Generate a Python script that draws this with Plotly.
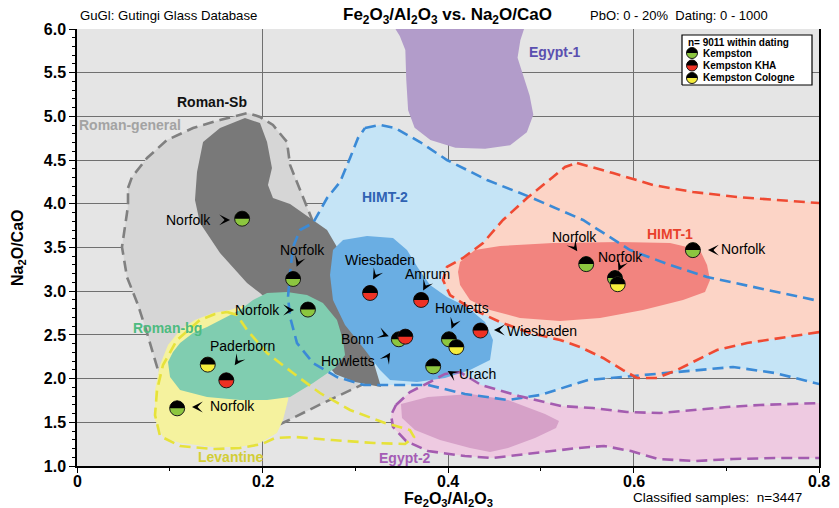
import numpy as np
import plotly.graph_objects as go

# ---------------- data ----------------
X_RANGE = [0.0, 0.8]
Y_RANGE = [1.0, 6.0]
x_tickvals = [0, 0.2, 0.4, 0.6, 0.8]
x_ticktext = ["0", "0.2", "0.4", "0.6", "0.8"]
y_tickvals = [1.0, 1.5, 2.0, 2.5, 3.0, 3.5, 4.0, 4.5, 5.0, 5.5, 6.0]
y_ticktext = ["1.0", "1.5", "2.0", "2.5", "3.0", "3.5", "4.0", "4.5", "5.0", "5.5", "6.0"]

# Kempston samples (Fe2O3/Al2O3, Na2O/CaO)
kempston_x = [0.178, 0.233, 0.249, 0.108, 0.347, 0.401, 0.384, 0.549, 0.580, 0.664]
kempston_y = [3.83, 3.14, 2.79, 1.66, 2.45, 2.45, 2.14, 3.31, 3.15, 3.47]
kha_x = [0.161, 0.316, 0.371, 0.435, 0.354]
kha_y = [1.98, 2.98, 2.90, 2.55, 2.48]
cologne_x = [0.141, 0.409, 0.583]
cologne_y = [2.16, 2.36, 3.08]

# site labels
site_names = ["Norfolk", "Norfolk", "Norfolk", "Paderborn", "Norfolk", "Wiesbaden", "Amrum",
              "Howletts", "Wiesbaden", "Bonn", "Howletts", "Urach", "Norfolk", "Norfolk", "Norfolk"]
site_label_x = [0.1466, 0.2426, 0.2210, 0.1779, 0.1412, 0.3267, 0.3784, 0.4151, 0.4615,
                0.3224, 0.3235, 0.4097, 0.5369, 0.5865, 0.6922]
site_label_y = [3.815, 3.471, 2.785, 2.373, 1.686, 3.357, 3.197, 2.808, 2.545, 2.453,
                2.201, 2.053, 3.620, 3.391, 3.483]
site_label_anchor = ["right", "center", "right", "center", "left", "center", "center", "center",
                     "left", "right", "right", "left", "center", "center", "left"]
pointer_x = [0.1607, 0.2383, 0.2297, 0.1725, 0.1283, 0.3213, 0.3752, 0.4054, 0.4539,
             0.3321, 0.3353, 0.4033, 0.5369, 0.5855, 0.6846]
pointer_y = [3.815, 3.323, 2.785, 2.190, 1.675, 3.174, 3.048, 2.613, 2.556, 2.499,
             2.258, 2.064, 3.494, 3.277, 3.471]
pointer_angle = [0, 110, 0, 125, 180, 120, 118, 112, 180, 20, -58, -150, 55, 114, 180]

# regions (outline polygons in data units)
rgen_x = [0.0550, 0.0593, 0.0755, 0.0970, 0.1251, 0.1542, 0.1844, 0.1973, 0.2113, 0.2264, 0.2297,
          0.2458, 0.2545, 0.2728, 0.2944, 0.3105, 0.3181, 0.2976, 0.2631, 0.2286, 0.1865, 0.1218,
          0.1003, 0.0927, 0.0863, 0.0755, 0.0658, 0.0539, 0.0485, 0.0539, 0.0550]
rgen_y = [4.181, 4.307, 4.524, 4.730, 4.867, 4.959, 5.039, 4.993, 4.902, 4.707, 4.444,
          4.021, 3.792, 3.357, 2.899, 2.442, 1.984, 1.881, 1.709, 1.526, 1.320, 1.297,
          1.469, 1.927, 2.133, 2.522, 2.842, 3.162, 3.506, 3.895, 3.986]
rsb_x = [0.1811, 0.1973, 0.2049, 0.2102, 0.2059, 0.2113, 0.2297, 0.2545, 0.2696, 0.2803, 0.2890,
         0.2997, 0.3105, 0.3191, 0.3278, 0.2997, 0.2782, 0.2404, 0.1973, 0.1833, 0.1542, 0.1326,
         0.1272, 0.1294, 0.1359, 0.1542]
rsb_y = [4.982, 4.924, 4.707, 4.410, 4.215, 4.066, 3.998, 3.815, 3.700, 3.506, 3.242,
         2.899, 2.556, 2.213, 1.904, 1.961, 2.053, 2.556, 2.979, 3.094, 3.437, 3.780,
         4.043, 4.364, 4.707, 4.867]
himt2_x = [0.3105, 0.3267, 0.3429, 0.3698, 0.3989, 0.4421, 0.4884, 0.5456, 0.5963, 0.6394, 0.6793,
           0.7289, 0.83, 0.83, 0.7526, 0.7073, 0.6372, 0.5510, 0.4992, 0.4647, 0.4183, 0.3784,
           0.3094, 0.2803, 0.2545, 0.2372, 0.2297, 0.2275, 0.2297, 0.2329, 0.2404, 0.2545,
           0.2696, 0.2836, 0.2944, 0.3030]
himt2_y = [4.867, 4.902, 4.867, 4.707, 4.501, 4.272, 4.078, 3.815, 3.471, 3.300, 3.162,
           3.048, 2.82, 1.858, 2.064, 2.133, 2.064, 1.984, 1.812, 1.755, 1.824, 1.927,
           1.927, 2.018, 2.178, 2.407, 2.705, 2.933, 3.208, 3.506, 3.700, 3.780,
           4.066, 4.249, 4.524, 4.753]
himt2_core_x = [0.2760, 0.2868, 0.3127, 0.3407, 0.3558, 0.3677, 0.3806, 0.3989, 0.4205, 0.4399,
                0.4485, 0.4453, 0.4237, 0.3968, 0.3666, 0.3375, 0.3267, 0.3105, 0.2890, 0.2760, 0.2728]
himt2_core_y = [3.471, 3.586, 3.631, 3.609, 3.471, 3.265, 3.071, 2.933, 2.819, 2.647,
                2.442, 2.213, 2.098, 2.007, 1.961, 1.984, 2.098, 2.327, 2.613, 2.899, 3.185]
himt1_x = [0.5391, 0.5779, 0.6210, 0.6642, 0.7116, 0.7580, 0.83, 0.83, 0.7580, 0.7224, 0.6900,
           0.6685, 0.6469, 0.6253, 0.6038, 0.5887, 0.5672, 0.5424, 0.5208, 0.4884, 0.4561,
           0.4237, 0.4022, 0.3946, 0.3989, 0.4162, 0.4378, 0.4593, 0.4852, 0.5132, 0.5262]
himt1_y = [4.467, 4.352, 4.215, 4.135, 4.078, 4.043, 3.985, 2.58, 2.464, 2.407, 2.327,
           2.213, 2.098, 2.007, 2.007, 2.098, 2.236, 2.361, 2.442, 2.522, 2.647,
           2.808, 2.956, 3.128, 3.277, 3.380, 3.551, 3.815, 4.066, 4.307, 4.421]
himt1_core_x = [0.4130, 0.4291, 0.4561, 0.5132, 0.5855, 0.6394, 0.6717, 0.6793, 0.6825, 0.6771,
                0.6534, 0.6103, 0.5639, 0.5208, 0.4776, 0.4453, 0.4237, 0.4130, 0.4108]
himt1_core_y = [3.334, 3.471, 3.517, 3.551, 3.563, 3.551, 3.471, 3.300, 3.128, 2.991,
                2.899, 2.785, 2.693, 2.659, 2.693, 2.785, 2.899, 3.071, 3.220]
egy1_x = [0.3375, 0.348, 0.354, 0.355, 0.357, 0.364, 0.381, 0.408, 0.44, 0.467, 0.485, 0.492,
          0.488, 0.48, 0.475, 0.478, 0.485]
egy1_y = [6.1, 5.92, 5.76, 5.42, 5.07, 4.87, 4.73, 4.64, 4.63, 4.67, 4.82, 5.02,
          5.24, 5.51, 5.67, 5.87, 6.1]
egy2_x = [0.3439, 0.3590, 0.3784, 0.3968, 0.4130, 0.4356, 0.4766, 0.5218, 0.5564, 0.5930, 0.6286,
          0.6642, 0.7008, 0.7364, 0.83, 0.83, 0.7526, 0.7073, 0.6663, 0.6264, 0.5973, 0.5682,
          0.5402, 0.4938, 0.4475, 0.4183, 0.3784, 0.3547, 0.3407, 0.3386]
egy2_y = [1.698, 1.847, 1.950, 2.053, 2.075, 1.927, 1.801, 1.686, 1.663, 1.618, 1.606,
          1.641, 1.675, 1.698, 1.73, 1.091, 1.091, 1.080, 1.057, 1.080, 1.171, 1.229,
          1.206, 1.149, 1.091, 1.114, 1.171, 1.286, 1.446, 1.583]
egy2_core_x = [0.3493, 0.3784, 0.4248, 0.4647, 0.5046, 0.5197, 0.5165, 0.4938, 0.4647, 0.4453,
               0.4237, 0.3914, 0.3644, 0.3504]
egy2_core_y = [1.709, 1.789, 1.824, 1.755, 1.595, 1.515, 1.435, 1.320, 1.206, 1.160,
               1.206, 1.297, 1.412, 1.549]
rbg_x = [0.1111, 0.1251, 0.1402, 0.1617, 0.1757, 0.1898, 0.2049, 0.2264, 0.2480, 0.2652, 0.2803,
         0.2868, 0.2890, 0.2782, 0.2545, 0.2297, 0.2049, 0.1757, 0.1402, 0.1111, 0.1003, 0.0981, 0.1035]
rbg_y = [2.407, 2.522, 2.590, 2.705, 2.785, 2.899, 2.979, 2.991, 2.956, 2.865, 2.670,
         2.442, 2.270, 2.121, 1.949, 1.789, 1.755, 1.755, 1.789, 1.869, 2.018, 2.190, 2.304]
lev_core_x = [0.1811, 0.1650, 0.1466, 0.1272, 0.1111, 0.0981, 0.0895, 0.0841, 0.0841, 0.0927,
              0.1111, 0.1466, 0.1757, 0.1973, 0.2156, 0.2221, 0.2275, 0.2297, 0.2189]
lev_core_y = [2.842, 2.785, 2.750, 2.670, 2.556, 2.384, 2.155, 1.869, 1.526, 1.332,
              1.263, 1.217, 1.217, 1.263, 1.377, 1.526, 1.755, 1.984, 2.442]
lev_x = [0.1617, 0.1725, 0.1833, 0.2049, 0.2329, 0.2620, 0.2944, 0.3321, 0.3590, 0.3633, 0.3536,
         0.3202, 0.2749, 0.2350, 0.2135, 0.1995, 0.1757, 0.1466, 0.1111, 0.0895, 0.0841, 0.0863,
         0.0927, 0.1078, 0.1326, 0.1488]
lev_y = [2.762, 2.728, 2.556, 2.293, 2.064, 1.835, 1.641, 1.492, 1.412, 1.332, 1.252,
         1.263, 1.297, 1.332, 1.320, 1.252, 1.206, 1.194, 1.229, 1.343, 1.583, 1.869,
         2.155, 2.442, 2.670, 2.739]

region_names = ["Roman-Sb", "Roman-general", "Egypt-1", "HIMT-2", "HIMT-1", "Roman-bg", "Levantine", "Egypt-2"]
region_label_x = [0.1456, 0.0571, 0.5154, 0.3321, 0.6394, 0.0981, 0.1660, 0.3537]
region_label_y = [5.165, 4.902, 5.737, 4.078, 3.654, 2.579, 1.103, 1.091]

legend_title = "n= 9011 within dating"
legend_names = ["Kempston", "Kempston KHA", "Kempston Cologne"]

# ---------------- layout geometry ----------------
W, H = 839, 508
MARGIN = dict(l=77, r=20, t=29, b=42)
PW = W - MARGIN["l"] - MARGIN["r"]
PH = H - MARGIN["t"] - MARGIN["b"]
SX = (X_RANGE[1] - X_RANGE[0]) / PW
SY = (Y_RANGE[1] - Y_RANGE[0]) / PH
FONT = "Liberation Sans, Arial, sans-serif"

C_GREEN = "#8cc63f"
C_RED = "#ee3124"
C_YELLOW = "#f5ec3c"

fig = go.Figure()


def poly(xs, ys, fill, line_color=None, dash=None, width=2.6, xaxis="x", yaxis="y"):
    fig.add_trace(go.Scatter(
        x=list(xs) + [xs[0]], y=list(ys) + [ys[0]], mode="lines",
        fill="toself" if fill else None, fillcolor=fill,
        line=dict(color=line_color or "rgba(0,0,0,0)", width=width if line_color else 0, dash=dash),
        hoverinfo="skip", showlegend=False, xaxis=xaxis, yaxis=yaxis))


DASH = "11px,6px"


def outline(xs, ys, color, width=2.6):
    fig.add_trace(go.Scatter(
        x=list(xs) + [xs[0]], y=list(ys) + [ys[0]], mode="lines",
        line=dict(color=color, width=width, dash=DASH),
        hoverinfo="skip", showlegend=False))


# Roman-general (drawn first, later fills cover parts of it)
poly(rgen_x, rgen_y, "#d6d6d6", "#808080", DASH)
# outer fills
poly(himt2_x, himt2_y, "#c5e4f6")
poly(himt1_x, himt1_y, "#fcd4c6")
poly(egy2_x, egy2_y, "#eecae1")
# cores
poly(rsb_x, rsb_y, "#797979")
poly(himt2_core_x, himt2_core_y, "#6aaee3")
poly(himt1_core_x, himt1_core_y, "#f2847f")
poly(egy2_core_x, egy2_core_y, "#d6a1c8")
poly(egy1_x, egy1_y, "#b29cca")
poly(lev_core_x, lev_core_y, "#f5f29e")
poly(rbg_x, rbg_y, "#80cdb0")
# dashed outlines
outline(himt2_x, himt2_y, "#3b8ad6")
outline(himt1_x, himt1_y, "#ef4a33")
outline(egy2_x, egy2_y, "#a45cb0")
outline(lev_x, lev_y, "#e6e23a")


def half_disc(xs, ys, r, sx, sy, n=30):
    px, py = [], []
    t = np.linspace(0, np.pi, n)
    for x, y in zip(xs, ys):
        px += list(x + r * sx * np.cos(t)) + [x + r * sx, None]
        py += list(y + r * sy * np.sin(t)) + [y, None]
    return px, py


def samples(xs, ys, color, size=15, xaxis="x", yaxis="y", sx=SX, sy=SY):
    fig.add_trace(go.Scatter(
        x=xs, y=ys, mode="markers", xaxis=xaxis, yaxis=yaxis,
        marker=dict(size=size, color=color, line=dict(color="#1a1a1a", width=1)),
        hoverinfo="skip", showlegend=False))
    hx, hy = half_disc(xs, ys, size / 2, sx, sy)
    fig.add_trace(go.Scatter(
        x=hx, y=hy, mode="lines", fill="toself", fillcolor="#000000",
        line=dict(width=0, color="rgba(0,0,0,0)"), xaxis=xaxis, yaxis=yaxis,
        hoverinfo="skip", showlegend=False))


samples(kempston_x, kempston_y, C_GREEN)
samples(kha_x, kha_y, C_RED)
samples(cologne_x, cologne_y, C_YELLOW)

# ---------------- manual legend (overlay paper-like axes) ----------------
lx0, lx1 = (682 - 77) / PW, (812 - 77) / PW
ly0, ly1 = (466 - 85) / PH, (466 - 35) / PH
fig.add_trace(go.Scatter(x=[lx0, lx1, lx1, lx0, lx0], y=[ly0, ly0, ly1, ly1, ly0], mode="lines",
                         fill="toself", fillcolor="white", line=dict(color="black", width=1.2),
                         xaxis="x2", yaxis="y2", hoverinfo="skip", showlegend=False))
leg_colors = [C_GREEN, C_RED, C_YELLOW]
leg_rows_y = [(466 - 53) / PH, (466 - 65.5) / PH, (466 - 78) / PH]
icon_x = (692 - 77) / PW
for c, yy in zip(leg_colors, leg_rows_y):
    samples([icon_x], [yy], c, size=11, xaxis="x2", yaxis="y2", sx=1 / PW, sy=1 / PH)

annotations = []
annotations.append(dict(x=(686 - 77) / PW, y=(466 - 42) / PH, xref="paper", yref="paper",
                        text="<b>" + legend_title + "</b>", showarrow=False, xanchor="left",
                        yanchor="middle", font=dict(family=FONT, size=10, color="black")))
for name, yy in zip(legend_names, leg_rows_y):
    annotations.append(dict(x=(701 - 77) / PW, y=yy, xref="paper", yref="paper",
                            text="<b>" + name + "</b>", showarrow=False, xanchor="left",
                            yanchor="middle", font=dict(family=FONT, size=10, color="black")))

# region labels
region_colors = ["#111111", "#a3a3a3", "#5a4fb0", "#2f62b3", "#e8412c", "#4dbb80", "#d2cd35", "#a45cb5"]
for name, x, y, c in zip(region_names, region_label_x, region_label_y, region_colors):
    annotations.append(dict(x=x, y=y, text="<b>" + name + "</b>", showarrow=False,
                            xanchor="center", yanchor="middle",
                            font=dict(family=FONT, size=14, color=c)))

# site labels
for name, x, y, anc in zip(site_names, site_label_x, site_label_y, site_label_anchor):
    annotations.append(dict(x=x, y=y, text=name, showarrow=False, xanchor=anc, yanchor="middle",
                            font=dict(family=FONT, size=14, color="black")))

# pointers
for x, y, ang in zip(pointer_x, pointer_y, pointer_angle):
    a = np.deg2rad(ang)
    dx, dy = np.cos(a), np.sin(a)
    tipx = x + 4 * dx * SX
    tipy = y - 4 * dy * SY
    annotations.append(dict(x=tipx, y=tipy, ax=-6 * dx, ay=-6 * dy, text="", showarrow=True,
                            arrowhead=3, arrowsize=1.8, arrowwidth=1, arrowcolor="black", standoff=0))

# x tick labels placed on the x axis scale
for v, t in zip(x_tickvals, x_ticktext):
    annotations.append(dict(x=v, y=(466 - 481) / PH, xref="x", yref="paper", text="<b>%s</b>" % t,
                            showarrow=False, xanchor="center", yanchor="middle",
                            font=dict(family=FONT, size=16, color="black")))


# header / footer texts
def ptxt(px, py, text, size, anchor="left", bold=False, angle=0):
    annotations.append(dict(x=(px - 77) / PW, y=(466 - py) / PH, xref="paper", yref="paper",
                            text=("<b>%s</b>" % text) if bold else text, showarrow=False,
                            xanchor=anchor, yanchor="middle", textangle=angle,
                            font=dict(family=FONT, size=size, color="black")))


ptxt(78, 16, "GuGl: Gutingi Glass Database", 13.2)
ptxt(447, 16, "Fe<sub>2</sub>O<sub>3</sub>/Al<sub>2</sub>O<sub>3</sub> vs. Na<sub>2</sub>O/CaO", 17,
     anchor="center", bold=True)
ptxt(588, 16, "PbO: 0 - 20%\u00a0\u00a0Dating: 0 - 1000", 13)
ptxt(448, 499, "Fe<sub>2</sub>O<sub>3</sub>/Al<sub>2</sub>O<sub>3</sub>", 16, anchor="center", bold=True)
ptxt(631, 497, "Classified samples:\u00a0\u00a0n=3447", 13.5)
ptxt(18, 248, "Na<sub>2</sub>O/CaO", 16, anchor="center", bold=True, angle=-90)

fig.update_layout(
    width=W, height=H, margin=MARGIN, autosize=False,
    paper_bgcolor="white", plot_bgcolor="#e5e5e5",
    showlegend=False, annotations=annotations,
    font=dict(family=FONT, color="black"),
    xaxis=dict(range=X_RANGE, tickvals=x_tickvals, showticklabels=False, ticks="outside",
               ticklen=5, tickwidth=1.2, tickcolor="black", showline=True, linecolor="black",
               linewidth=2, mirror=False, showgrid=True, gridcolor="#707070", gridwidth=1,
               zeroline=False,
               minor=dict(dtick=0.1, ticks="outside", ticklen=3, tickcolor="black", showgrid=False)),
    yaxis=dict(range=Y_RANGE, tickvals=y_tickvals, ticktext=y_ticktext, ticks="outside",
               ticklen=6, tickwidth=1.2, tickcolor="black", showline=True, linecolor="black",
               linewidth=1.5, mirror=True, showgrid=True, gridcolor="#707070", gridwidth=1,
               zeroline=False, tickfont=dict(family=FONT, size=16, color="black", weight="bold"),
               minor=dict(dtick=0.1, ticks="outside", ticklen=3, tickcolor="black", showgrid=False)),
    xaxis2=dict(range=[0, 1], overlaying="x", visible=False, anchor="y2", fixedrange=True),
    yaxis2=dict(range=[0, 1], overlaying="y", visible=False, anchor="x2", fixedrange=True),
)

fig.write_html("out.html", config={"displayModeBar": False},
               post_script="document.body.style.margin='0';document.body.style.overflow='hidden';")
